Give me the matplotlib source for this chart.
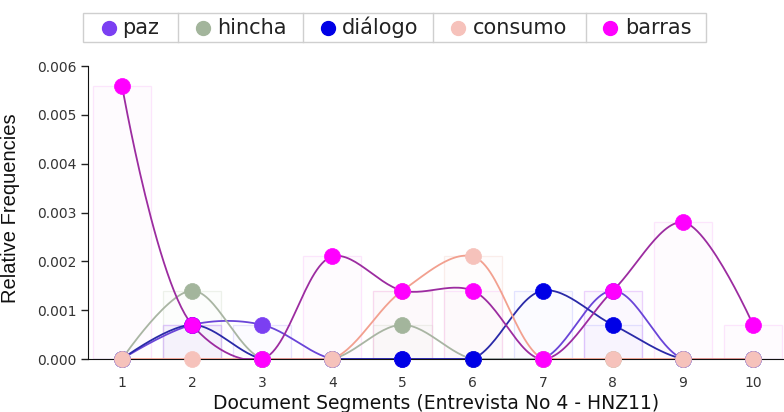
import numpy as np
import matplotlib
matplotlib.use("Agg")
import matplotlib.pyplot as plt
from matplotlib.lines import Line2D
from matplotlib.patches import Rectangle
from matplotlib.colors import to_rgba

plt.rcParams['font.family'] = ['DejaVu Sans']

segments = [1, 2, 3, 4, 5, 6, 7, 8, 9, 10]
series_names = ["paz", "hincha", "diálogo", "consumo", "barras"]
paz = [0, 0.0007, 0.0007, 0, 0, 0, 0, 0.0014, 0, 0]
hincha = [0, 0.0014, 0, 0, 0.0007, 0, 0, 0, 0, 0]
dialogo = [0, 0.0007, 0, 0, 0, 0, 0.0014, 0.0007, 0, 0]
consumo = [0, 0, 0, 0, 0.0014, 0.0021, 0, 0, 0, 0]
barras = [0.0056, 0.0007, 0, 0.0021, 0.0014, 0.0014, 0, 0.0014, 0.0028, 0.0007]
y_ticks = [0.000, 0.001, 0.002, 0.003, 0.004, 0.005, 0.006]

values = [paz, hincha, dialogo, consumo, barras]
marker_colors = ["#7b3ff2", "#a3b59c", "#0000e6", "#f6c2bb", "#ff00ff"]
line_colors = ["#6a45d8", "#a9b5a3", "#2a2aa8", "#f2a08f", "#9c2ca0"]
bar_colors = ["#b8a8ff", "#c8d4c0", "#a8a8ff", "#f4c8c0", "#f8b0f8"]

fig = plt.figure(figsize=(7.84, 4.12), dpi=100)
ax = fig.add_axes([0.1122, 0.1286, 0.8878, 0.7112])
ax.set_xlim(0.515, 10.44)
ax.set_ylim(0, 0.006)


def catmull_rom_px(xd, yd, alpha=0.5, n=30):
    """d3-style centripetal Catmull-Rom computed in display space."""
    pts = ax.transData.transform(np.column_stack([xd, yd]).astype(float))
    out = [pts[0]]
    m = len(pts)
    for i in range(m - 1):
        p0 = pts[i - 1] if i > 0 else None
        p1, p2 = pts[i], pts[i + 1]
        p3 = pts[i + 2] if i + 2 < m else None
        l12 = np.hypot(*(p2 - p1))
        l12a, l12_2a = l12 ** alpha, l12 ** (2 * alpha)
        c1 = p1.copy()
        c2 = p2.copy()
        if p0 is not None:
            l01 = np.hypot(*(p1 - p0))
            l01a, l01_2a = l01 ** alpha, l01 ** (2 * alpha)
            if l01a > 1e-12:
                a = 2 * l01_2a + 3 * l01a * l12a + l12_2a
                nn = 3 * l01a * (l01a + l12a)
                c1 = (p1 * a - p0 * l12_2a + p2 * l01_2a) / nn
        if p3 is not None:
            l23 = np.hypot(*(p3 - p2))
            l23a, l23_2a = l23 ** alpha, l23 ** (2 * alpha)
            if l23a > 1e-12:
                b = 2 * l23_2a + 3 * l23a * l12a + l12_2a
                mm = 3 * l23a * (l23a + l12a)
                c2 = (p2 * b + p1 * l23_2a - p3 * l12_2a) / mm
        t = np.linspace(0, 1, n)[1:, None]
        seg = ((1 - t) ** 3) * p1 + 3 * ((1 - t) ** 2) * t * c1 + 3 * (1 - t) * t ** 2 * c2 + t ** 3 * p2
        out.extend(seg)
    out = np.array(out)
    data = ax.transData.inverted().transform(out)
    return data[:, 0], np.clip(data[:, 1], 0, None)


# faint bars
for vals, bc in zip(values, bar_colors):
    ax.bar(segments, vals, width=0.83, color=to_rgba(bc, 0.04),
           edgecolor=to_rgba(bc, 0.3), linewidth=0.9, zorder=1)

for vals, lc in zip(values, line_colors):
    sx, sy = catmull_rom_px(segments, vals)
    ax.plot(sx, sy, color=lc, lw=1.3, zorder=3)

for vals, mc in zip(values, marker_colors):
    ax.plot(segments, vals, 'o', ms=11.5, color=mc, mec=mc, mew=0.5,
            zorder=4, clip_on=False)

ax.set_xticks(segments)
ax.set_xticklabels([str(s) for s in segments], fontsize=10)
ax.set_yticks(y_ticks)
ax.set_yticklabels([f"{v:.3f}" for v in y_ticks], fontsize=10)
ax.spines['top'].set_visible(False)
ax.spines['right'].set_visible(False)
ax.spines['left'].set_color('#111111')
ax.spines['bottom'].set_color('#111111')
ax.tick_params(axis='both', length=5, width=1, color='#222222', labelcolor='#333333')
ax.tick_params(axis='x', pad=7)
ax.set_xlabel("Document Segments (Entrevista No 4 - HNZ11)", fontsize=13.5,
              color='#111111', labelpad=3)
ax.set_ylabel("Relative Frequencies", fontsize=14.5, color='#111111',
              family='Liberation Sans')
ax.yaxis.set_label_coords(-0.098, 0.515)

# legend box drawn by hand (fixed layout, pixel positions)
W, H = 784.0, 412.0
box_l, box_r, box_t, box_b = 83, 706, 13, 42
fig.patches.append(Rectangle((box_l / W, 1 - box_b / H), (box_r - box_l) / W,
                             (box_b - box_t) / H, transform=fig.transFigure,
                             facecolor='white', edgecolor='#cfcfcf', lw=1))
for sxp in [178, 303, 433, 586]:
    fig.add_artist(Line2D([sxp / W, sxp / W], [1 - box_b / H, 1 - box_t / H],
                          transform=fig.transFigure, color='#cfcfcf', lw=1))
mk_x = [109, 203, 328, 458, 610]
tx_x = [122, 217, 342, 473, 625]
yc = 1 - 27.5 / H
for name, mc, mx, tx in zip(series_names, marker_colors, mk_x, tx_x):
    fig.add_artist(Line2D([mx / W], [yc], marker='o', ms=10, color=mc, mec=mc,
                          transform=fig.transFigure))
    fig.text(tx / W, yc, name, fontsize=15, va='center', ha='left', color='#222222')

fig.savefig("out.png", dpi=100)
